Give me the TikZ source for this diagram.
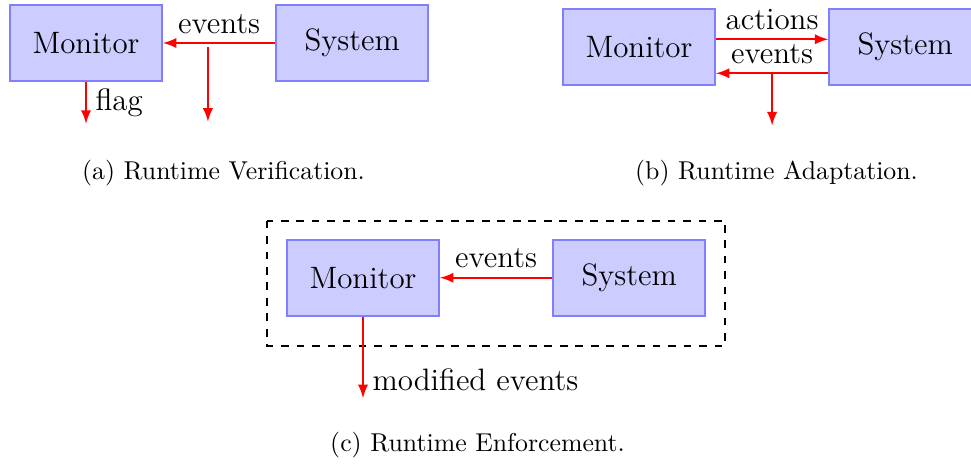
\documentclass[tikz,border=0pt]{standalone}
\usetikzlibrary{positioning}

\begin{document}
\begin{tikzpicture}[node distance=1.53cm, every node/.style={font=\large},
  comp/.style={draw=blue!50,fill=blue!20,thick,minimum width=2.07cm,minimum height=1.03cm},
  flow/.style={-latex,red,thick,text=black},
  subcaption/.style={font=\normalsize}]
\useasboundingbox (0,0) rectangle (13.23,-6.322);

% (a) runtime verification
\node[comp] (monA) at (1.172,-0.586) {Monitor};
\node[comp,right=of monA] (sysA) {System};
\draw[flow] (sysA) -- (monA) node[midway,above] {events} coordinate[pos=0.6] (tapA);
\coordinate[below=0.55mm of tapA] (srcA);
\coordinate[below=1.07cm of tapA] (outA);
\draw[flow] (srcA) -- (outA);
\coordinate[below=0.57cm of monA.south] (flagA);
\draw[flow] (monA) -- (flagA) node[midway,right] {flag};
\node[subcaption] (capA) at (3.045,-2.357) {(a) Runtime Verification.};

% (b) runtime adaptation
\node[comp] (monB) at (8.706,-0.640) {Monitor};
\node[comp,right=of monB] (sysB) {System};
\draw[flow] ([yshift=1.05mm]monB.east) -- ([yshift=1.05mm]sysB.west) node[midway,above] {actions};
\draw[flow] ([yshift=-3.58mm]sysB.west) -- ([yshift=-3.58mm]monB.east) node[midway,above] {events} coordinate[midway] (tapB);
\coordinate[below=0.71cm of tapB] (outB);
\draw[flow] (tapB) -- (outB);
\node[subcaption] (capB) at (10.58,-2.357) {(b) Runtime Adaptation.};

% (c) runtime enforcement
\node[comp] (monC) at (4.946,-3.784) {Monitor};
\node[comp,right=of monC] (sysC) {System};
\draw[thick,dashed] ([shift={(-0.26cm,0.25cm)}]monC.north west) rectangle ([shift={(0.26cm,-0.395cm)}]sysC.south east);
\draw[flow] (sysC) -- (monC) node[midway,above] {events};
\coordinate[below=1.11cm of monC.south] (outC);
\draw[flow] (monC) -- (outC) node[pos=0.78,right] {modified events};
\node[subcaption] (capC) at (6.506,-6.063) {(c) Runtime Enforcement.};
\end{tikzpicture}
\end{document}
